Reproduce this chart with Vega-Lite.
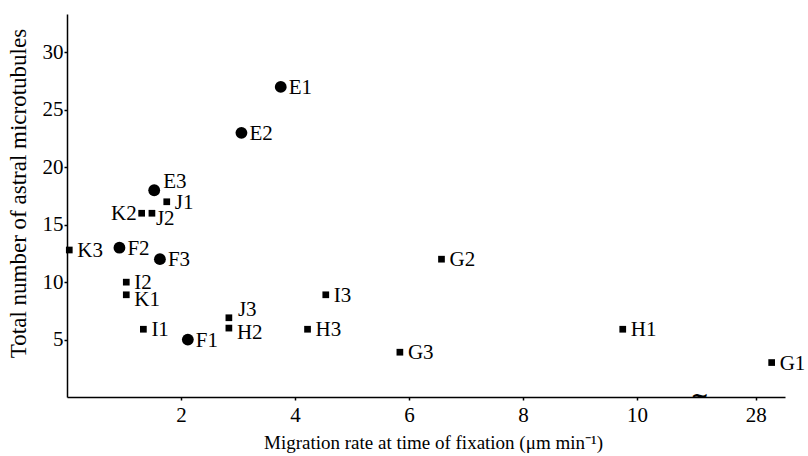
{
  "$schema": "https://vega.github.io/schema/vega-lite/v6.json",
  "width": 718,
  "height": 383,
  "autosize": {"type": "none"},
  "padding": {"left": 67, "top": 14, "right": 23, "bottom": 59},
  "background": "white",
  "config": {
    "view": {"stroke": null},
    "font": "Liberation Serif",
    "axis": {"grid": false, "domainColor": "black", "tickColor": "black", "labelColor": "black", "titleColor": "black", "labelFont": "Liberation Serif", "titleFont": "Liberation Serif", "labelFontSize": 21, "titleFontWeight": "normal", "domainWidth": 1.5, "tickWidth": 1.5}
  },
  "data": {
    "values": [
      {"label": "E1", "series": "E", "rate": 3.75, "mt": 27},
      {"label": "E2", "series": "E", "rate": 3.06, "mt": 23},
      {"label": "E3", "series": "E", "rate": 1.53, "mt": 18},
      {"label": "F1", "series": "F", "rate": 2.12, "mt": 5},
      {"label": "F2", "series": "F", "rate": 0.92, "mt": 13},
      {"label": "F3", "series": "F", "rate": 1.63, "mt": 12},
      {"label": "G1", "series": "G", "rate": 28.3, "mt": 3},
      {"label": "G2", "series": "G", "rate": 6.57, "mt": 12},
      {"label": "G3", "series": "G", "rate": 5.84, "mt": 3.9},
      {"label": "H1", "series": "H", "rate": 9.75, "mt": 5.9},
      {"label": "H2", "series": "H", "rate": 2.84, "mt": 6},
      {"label": "H3", "series": "H", "rate": 4.22, "mt": 5.9},
      {"label": "I1", "series": "I", "rate": 1.34, "mt": 5.9},
      {"label": "I2", "series": "I", "rate": 1.04, "mt": 10},
      {"label": "I3", "series": "I", "rate": 4.54, "mt": 8.9},
      {"label": "J1", "series": "J", "rate": 1.75, "mt": 17},
      {"label": "J2", "series": "J", "rate": 1.49, "mt": 16},
      {"label": "J3", "series": "J", "rate": 2.84, "mt": 6.9},
      {"label": "K1", "series": "K", "rate": 1.04, "mt": 8.9},
      {"label": "K2", "series": "K", "rate": 1.31, "mt": 16},
      {"label": "K3", "series": "K", "rate": 0.04, "mt": 12.8}
    ]
  },
  "encoding": {
    "x": {
      "field": "rate", "type": "quantitative",
      "scale": {"domain": [0, 11.1, 26.95, 28.55], "range": [0, 632.7, 632.7, 718], "nice": false, "zero": false},
      "axis": {"values": [2, 4, 6, 8, 10, 28], "title": "Migration rate at time of fixation (μm min⁻¹)", "titleFontSize": 19, "tickSize": 3, "labelPadding": 4, "titlePadding": 8, "labelFlush": false, "titleX": 366}
    },
    "y": {
      "field": "mt", "type": "quantitative",
      "scale": {"domain": [0, 33.35], "nice": false},
      "axis": {"values": [5, 10, 15, 20, 25, 30], "title": "Total number of astral microtubules", "titleFontSize": 23, "tickSize": 3, "labelPadding": 1, "titlePadding": 12, "titleY": 179}
    }
  },
  "layer": [
    {
      "transform": [{"filter": {"field": "series", "oneOf": ["E", "F"]}}],
      "mark": {"type": "circle", "size": 140, "opacity": 1, "color": "black"}
    },
    {
      "transform": [{"filter": {"not": {"field": "series", "oneOf": ["E", "F"]}}}],
      "mark": {"type": "square", "size": 45, "opacity": 1, "color": "black"}
    },
    {
      "transform": [{"filter": {"not": {"field": "label", "oneOf": ["K2", "E3", "J2", "J3", "H2", "K1"]}}}],
      "mark": {"type": "text", "align": "left", "baseline": "middle", "dx": 8, "dy": 1, "fontSize": 21, "font": "Liberation Serif", "color": "black"},
      "encoding": {"text": {"field": "label"}}
    },
    {
      "transform": [{"filter": {"field": "label", "equal": "K2"}}],
      "mark": {"type": "text", "align": "right", "baseline": "middle", "dx": -5, "dy": 1, "fontSize": 21, "font": "Liberation Serif", "color": "black"},
      "encoding": {"text": {"field": "label"}}
    },
    {
      "transform": [{"filter": {"field": "label", "oneOf": ["E3", "J3"]}}],
      "mark": {"type": "text", "align": "left", "baseline": "middle", "dx": 9, "dy": -8, "fontSize": 21, "font": "Liberation Serif", "color": "black"},
      "encoding": {"text": {"field": "label"}}
    },
    {
      "transform": [{"filter": {"field": "label", "oneOf": ["H2", "K1"]}}],
      "mark": {"type": "text", "align": "left", "baseline": "middle", "dx": 8, "dy": 5, "fontSize": 21, "font": "Liberation Serif", "color": "black"},
      "encoding": {"text": {"field": "label"}}
    },
    {
      "transform": [{"filter": {"field": "label", "equal": "J2"}}],
      "mark": {"type": "text", "align": "left", "baseline": "middle", "dx": 4, "dy": 6, "fontSize": 21, "font": "Liberation Serif", "color": "black"},
      "encoding": {"text": {"field": "label"}}
    },
    {
      "data": {"values": [{"brk": 11.1, "base": 0}]},
      "mark": {"type": "text", "text": "~", "fontSize": 22, "fontWeight": "bold", "font": "DejaVu Sans", "color": "black", "baseline": "middle", "dy": -1},
      "encoding": {"x": {"field": "brk", "type": "quantitative"}, "y": {"field": "base", "type": "quantitative"}}
    }
  ]
}
